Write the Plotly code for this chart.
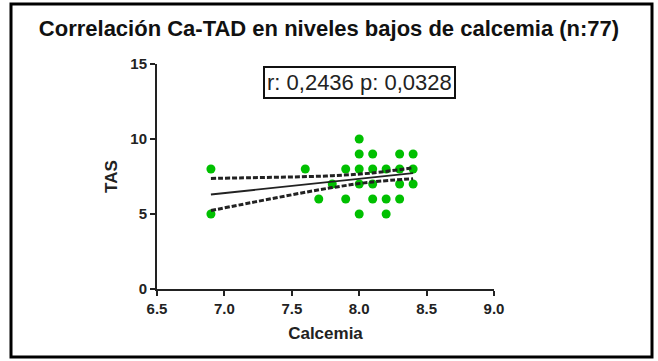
import plotly.graph_objects as go

# Data
calcemia = [6.9, 6.9, 7.6, 7.7, 7.8, 7.9, 7.9,
            8.0, 8.0, 8.0, 8.0, 8.0,
            8.1, 8.1, 8.1, 8.1,
            8.2, 8.2, 8.2,
            8.3, 8.3, 8.3, 8.3,
            8.4, 8.4, 8.4]
tas = [8, 5, 8, 6, 7, 8, 6,
       10, 9, 8, 7, 5,
       9, 8, 7, 6,
       8, 6, 5,
       9, 8, 7, 6,
       9, 8, 7]

fit_x = [6.9, 7.2, 7.5, 7.8, 8.1, 8.4]
fit_y = [6.30, 6.58, 6.87, 7.15, 7.44, 7.72]
ci_upper = [7.37, 7.42, 7.47, 7.55, 7.74, 8.08]
ci_lower = [5.23, 5.76, 6.28, 6.76, 7.14, 7.35]

x_ticks = [6.5, 7.0, 7.5, 8.0, 8.5, 9.0]
y_ticks = [0, 5, 10, 15]

title_text = "Correlación Ca-TAD en niveles bajos de calcemia (n:77)"
stats_text = "r: 0,2436 p: 0,0328"

FONT = "Liberation Sans, Arial, sans-serif"

fig = go.Figure()
fig.add_trace(go.Scatter(x=calcemia, y=tas, mode="markers",
                         marker=dict(color="#00c000", size=9),
                         showlegend=False, cliponaxis=False))
fig.add_trace(go.Scatter(x=fit_x, y=ci_upper, mode="lines", line_shape="spline",
                         line=dict(color="#222222", width=3, dash="5px,2px"),
                         showlegend=False))
fig.add_trace(go.Scatter(x=fit_x, y=ci_lower, mode="lines", line_shape="spline",
                         line=dict(color="#222222", width=3, dash="5px,2px"),
                         showlegend=False))
fig.add_trace(go.Scatter(x=fit_x, y=fit_y, mode="lines",
                         line=dict(color="#222222", width=1.8),
                         showlegend=False))

axis_common = dict(showgrid=False, zeroline=False, showline=True, linecolor="#222222",
                   linewidth=2, ticks="outside", ticklen=5, tickwidth=2, tickcolor="#222222",
                   tickfont=dict(family=FONT, size=15, color="#222222", weight="bold"))

fig.update_xaxes(range=[6.5, 9.0], tickvals=x_ticks, tickformat=".1f",
                 title=dict(text="Calcemia", standoff=11,
                            font=dict(family=FONT, size=17, color="#222222", weight="bold")),
                 **axis_common)
fig.update_yaxes(range=[0, 15], tickvals=y_ticks,
                 title=dict(text="TAS", standoff=8,
                            font=dict(family=FONT, size=17, color="#222222", weight="bold")),
                 **axis_common)

fig.add_annotation(x=8.0, y=13.8, xref="x", yref="y", text=stats_text, showarrow=False,
                   font=dict(family=FONT, size=22, color="#222222"),
                   bordercolor="#111111", borderwidth=2, borderpad=2, bgcolor="white")

# outer frame
fig.add_shape(type="rect", xref="paper", yref="paper",
              x0=(11 - 157) / 337, x1=(652 - 157) / 337,
              y0=(289 - 357) / 225, y1=(289 - 4) / 225,
              line=dict(color="black", width=3))

fig.update_layout(
    width=658, height=361,
    margin=dict(l=157, r=164, t=64, b=72),
    paper_bgcolor="white", plot_bgcolor="white",
    title=dict(text=title_text, x=0.5, xanchor="center", y=1 - 28 / 361, yanchor="middle",
               xref="container", yref="container",
               font=dict(family=FONT, size=22, color="#111111", weight="bold")),
)

fig.write_html("out.html", config={"displayModeBar": False},
               post_script="document.body.style.margin='0';document.body.style.overflow='hidden';")
